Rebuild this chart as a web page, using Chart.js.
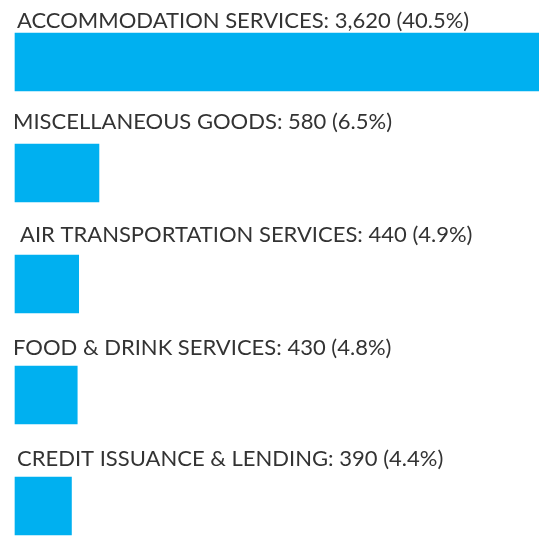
<!DOCTYPE html>
<html lang="en">
<head>
  <meta charset="UTF-8">
  <title>Top categories</title>
  <script src="https://cdn.jsdelivr.net/npm/chart.js"></script>
  <style>
    html, body {
      margin: 0;
      padding: 0;
      background: #fff;
    }
    .wrap {
      width: 539px;
      height: 536px;
      position: relative;
    }
  </style>
</head>
<body>
<div class="wrap"><canvas id="cvs"></canvas></div>

<script>
const categories = [
  'ACCOMMODATION SERVICES',
  'MISCELLANEOUS GOODS',
  'AIR TRANSPORTATION SERVICES',
  'FOOD & DRINK SERVICES',
  'CREDIT ISSUANCE & LENDING'
];
const amounts = [3620, 580, 440, 430, 390];
const shares = [40.5, 6.5, 4.9, 4.8, 4.4];

// small per-label nudges [dx, baseline gap above bar], as in the original layout
const labelNudge = [[2, 5], [-2, 15], [5, 13], [-2, 11], [2, 11]];

const barLabels = {
  id: 'barLabels',
  afterDatasetsDraw(chart) {
    const ctx = chart.ctx;
    const meta = chart.getDatasetMeta(0);
    ctx.save();
    ctx.font = '22px Lato, "Open Sans", sans-serif';
    ctx.fillStyle = '#333333';
    ctx.textBaseline = 'alphabetic';
    ctx.textAlign = 'left';
    meta.data.forEach((bar, i) => {
      const top = bar.y - bar.height / 2;
      const txt = `${categories[i]}: ${amounts[i].toLocaleString('en-US')} (${shares[i]}%)`;
      ctx.fillText(txt, bar.base + labelNudge[i][0], top - labelNudge[i][1]);
    });
    ctx.restore();
  }
};

new Chart(document.getElementById('cvs'), {
  type: 'bar',
  data: {
    labels: categories,
    datasets: [{
      data: amounts,
      backgroundColor: '#00b0f0',
      borderWidth: 0,
      barThickness: 58,
      clip: false
    }]
  },
  options: {
    indexAxis: 'y',
    responsive: true,
    maintainAspectRatio: false,
    animation: false,
    layout: { padding: { top: 62, bottom: 30, left: 15, right: 0 } },
    scales: {
      x: { display: false, min: 0, max: 3620 },
      y: { display: false, offset: false }
    },
    plugins: {
      legend: { display: false },
      tooltip: { enabled: false }
    }
  },
  plugins: [barLabels]
});
</script>
</body>
</html>
